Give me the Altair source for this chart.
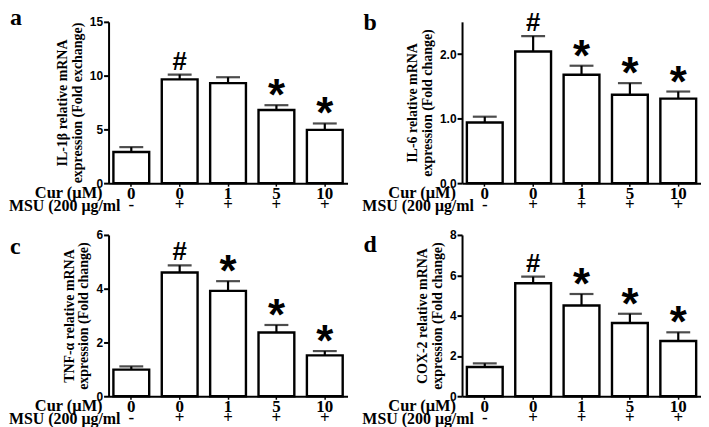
import altair as alt
import pandas as pd

groups = ["g1", "g2", "g3", "g4", "g5"]
cur_labels = ["0", "0", "1", "5", "10"]
msu_labels = ["-", "+", "+", "+", "+"]

a_mean = [2.9, 9.65, 9.3, 6.8, 4.95]
a_sem = [0.45, 0.45, 0.55, 0.45, 0.6]
a_sig = ["", "#", "", "*", "*"]

b_mean = [0.94, 2.04, 1.68, 1.37, 1.31]
b_sem = [0.09, 0.24, 0.14, 0.18, 0.11]
b_sig = ["", "#", "*", "*", "*"]

c_mean = [0.99, 4.60, 3.92, 2.37, 1.52]
c_sem = [0.12, 0.27, 0.36, 0.28, 0.16]
c_sig = ["", "#", "*", "*", "*"]

d_mean = [1.45, 5.60, 4.50, 3.63, 2.74]
d_sem = [0.18, 0.33, 0.57, 0.46, 0.43]
d_sig = ["", "#", "*", "*", "*"]

W = 240
H = 162
SERIF = "Liberation Serif"
SANS = "Liberation Sans"


def panel(letter, mean, sem, sig, title, ymax, ystep, fmt, letter_y):
    df = pd.DataFrame({
        "g": groups, "cur": cur_labels, "msu": msu_labels,
        "mean": mean, "sem": sem, "sig": sig,
    })
    base = alt.Chart(df).transform_calculate(up="datum.mean + datum.sem")
    ticks = [round(i * ystep, 3) for i in range(int(round(ymax / ystep)) + 1)]
    x = alt.X("g:N", sort=groups,
              scale=alt.Scale(paddingInner=0.26, paddingOuter=0.1),
              axis=alt.Axis(labels=False, title=None, domainColor="black",
                            domainWidth=2, tickColor="black", tickWidth=1.5,
                            tickSize=3))
    y = alt.Y("mean:Q", scale=alt.Scale(domain=[0, ymax], nice=False, zero=True),
              axis=alt.Axis(values=ticks, format=fmt, title=title,
                            titleFont=SERIF, titleFontSize=14, titleFontWeight="bold",
                            titleLineHeight=15, titlePadding=5, titleColor="black",
                            labelFont=SANS, labelFontSize=12, labelFontWeight="bold",
                            labelColor="black", labelPadding=1,
                            domainColor="black", domainWidth=2,
                            tickColor="black", tickWidth=2, tickSize=5, grid=False))
    bars = base.mark_bar(fill="white", stroke="black", strokeWidth=2.4).encode(x=x, y=y)
    err = base.mark_rule(color="black", strokeWidth=2.2).encode(
        x=alt.X("g:N", sort=groups), y="mean:Q", y2="up:Q")
    cap = base.mark_tick(color="black", size=24, thickness=2.2).encode(
        x=alt.X("g:N", sort=groups), y="up:Q")
    hashm = base.transform_filter("datum.sig == '#'").mark_text(
        font=SANS, fontSize=26, fontWeight="bold", baseline="alphabetic", dy=-5,
        color="black").encode(x=alt.X("g:N", sort=groups), y="up:Q", text="sig:N")
    star = base.transform_filter("datum.sig == '*'").mark_text(
        font=SANS, fontSize=44, fontWeight="bold", baseline="alphabetic", dy=5,
        color="black").encode(x=alt.X("g:N", sort=groups), y="up:Q", text="sig:N")
    curt = base.mark_text(font=SERIF, fontSize=17, fontWeight="bold",
                          baseline="middle", color="black").encode(
        x=alt.X("g:N", sort=groups), y=alt.value(H + 11), text="cur:N")
    msut = base.mark_text(font=SERIF, fontSize=17, fontWeight="bold",
                          baseline="middle", color="black").encode(
        x=alt.X("g:N", sort=groups), y=alt.value(H + 22), text="msu:N")
    lab = pd.DataFrame({"t": ["x"]})
    rowcur = alt.Chart(lab).mark_text(font=SERIF, fontSize=16.5, fontWeight="bold",
                                      baseline="middle", align="right",
                                      color="black").encode(
        x=alt.value(-6), y=alt.value(H + 10), text=alt.value("Cur (μM)"))
    rowmsu = alt.Chart(lab).mark_text(font=SERIF, fontSize=16, fontWeight="bold",
                                      baseline="middle", align="right",
                                      color="black").encode(
        x=alt.value(12), y=alt.value(H + 23), text=alt.value("MSU (200 μg/ml"))
    let = alt.Chart(lab).mark_text(font=SERIF, fontSize=24, fontWeight="bold",
                                   baseline="alphabetic", align="left",
                                   color="black").encode(
        x=alt.value(-99), y=alt.value(letter_y), text=alt.value(letter))
    return alt.layer(bars, err, cap, hashm, star, curt, msut, rowcur, rowmsu, let).properties(
        width=W, height=H)


pa = panel("a", a_mean, a_sem, a_sig, ["IL-1β  relative mRNA", "expression (Fold exchange)"],
           15, 5, "d", 3)
pb = panel("b", b_mean, b_sem, b_sig, ["IL-6 relative mRNA", "expression (Fold change)"],
           2.5, 0.5, ".1f", 8)
pc = panel("c", c_mean, c_sem, c_sig, ["TNF-α relative mRNA", "expression (Fold change)"],
           6, 2, "d", 19)
pd_ = panel("d", d_mean, d_sem, d_sig, ["COX-2 relative mRNA", "expression (Fold change)"],
            8, 2, "d", 17)

chart = alt.ConcatChart(
    concat=[pa, pb, pc, pd_], columns=2,
    spacing={"row": 52, "column": 115}, bounds="flush",
).properties(padding={"left": 0, "top": -3, "right": 0, "bottom": 0}).configure_view(stroke=None)

chart.save("out.html", embed_options={"renderer": "svg", "actions": False})
